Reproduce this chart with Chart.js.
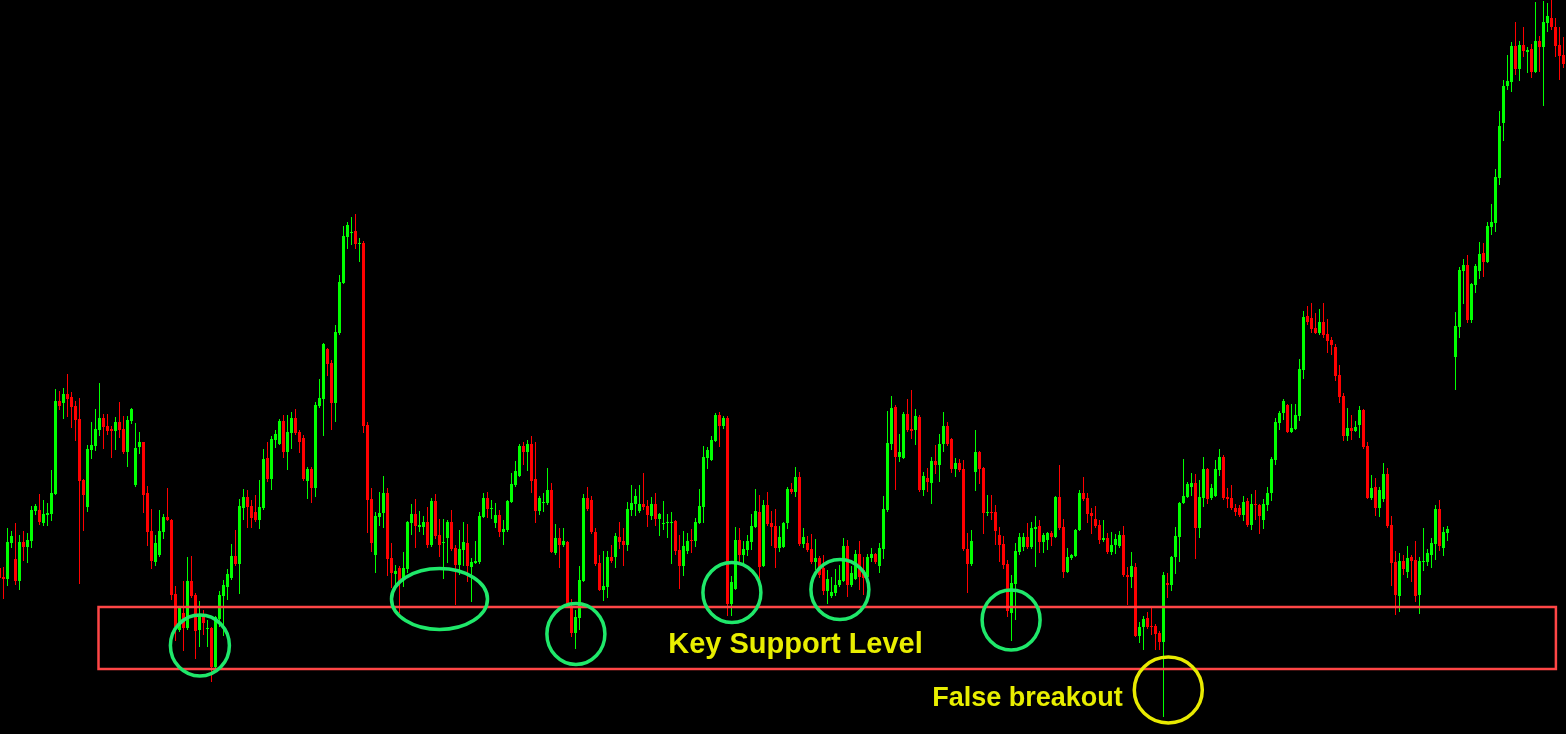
<!DOCTYPE html>
<html>
<head>
<meta charset="utf-8">
<script src="https://cdn.jsdelivr.net/npm/chart.js@4.4.1/dist/chart.umd.min.js"></script>
<style>
  html, body { margin: 0; padding: 0; background: #000; }
  #wrap { width: 1566px; height: 734px; }
</style>
</head>
<body>
<div id="wrap"><canvas id="chart"></canvas></div>
<script>
// Candle levels, read off the picture. They are measured downward from the top
// edge of the frame, so the y axis is reversed: a smaller number sits higher.
// Entry 0 is the half-cut candle on the left edge; null = no candle there.
const open = [
  568, 577,579,543,559,581,542,547,541,511,510,
  523,515,514,494,401,403,394,397,406,419,
  480,507,450,446,430,418,426,429,431,422,
  429,452,421,485,447,442,493,531,562,555,
  532,517,520,594,630,613,628,581,595,630,
  617,629,628,667,619,596,587,578,556,564,
  508,497,506,512,520,508,458,479,440,444,
  421,452,433,418,432,438,481,469,488,406,
  399,349,363,403,333,283,237,233,231,244,
  243,425,499,555,517,513,493,558,574,568,
  580,569,523,514,527,527,522,545,501,535,
  543,538,522,548,565,550,543,567,563,562,
  517,498,509,523,515,532,530,502,485,476,
  446,452,444,479,511,503,503,490,553,538,
  545,542,606,633,618,581,498,500,532,563,
  590,587,557,557,537,541,545,510,504,511,
  504,506,516,504,519,524,523,523,521,550,
  566,551,540,541,523,507,458,460,441,415,
  426,418,604,589,540,555,550,542,527,512,
  566,505,523,526,548,547,523,489,492,477,
  544,543,549,562,558,568,591,596,593,585,
  581,546,585,579,554,570,577,558,554,566,
  549,510,444,407,457,458,414,429,430,417,
  490,478,483,461,465,444,426,439,469,463,
  469,549,564,472,452,468,513,512,512,535,
  544,564,613,584,552,547,537,547,529,526,
  542,540,533,537,497,527,572,558,556,530,
  493,498,513,519,525,540,538,552,545,546,
  535,575,577,567,636,627,618,626,626,633,
  642,583,585,557,537,503,497,487,483,528,
  498,469,498,496,470,457,497,498,508,508,
  515,501,525,504,505,520,505,493,460,423,
  413,405,432,429,416,370,316,318,328,333,
  322,334,340,347,375,396,436,428,431,425,
  410,446,498,487,508,499,474,525,562,596,
  561,572,557,560,595,562,562,555,544,509,
  548,533,null,357,327,271,265,320,285,271,
  253,262,227,223,178,123,86,82,46,69,
  45,52,49,72,41,47,23,18,27,45, 55
];
const high = [
  565, 567,528,531,523,535,531,533,506,504,494,
  500,503,470,389,391,388,374,392,401,398,
  479,445,422,409,383,414,414,426,417,402,
  416,416,408,423,432,442,486,509,535,510,
  514,488,519,586,606,581,557,556,593,601,
  610,620,627,616,591,580,569,544,530,499,
  489,490,500,495,480,449,442,436,430,419,
  415,415,412,409,430,435,467,467,402,379,
  343,348,360,325,275,226,222,217,214,238,
  241,422,488,512,492,476,488,543,565,566,
  552,521,504,499,511,516,507,498,494,519,
  519,520,510,545,530,522,524,558,541,512,
  493,492,500,503,510,520,500,473,461,444,
  442,440,436,442,496,493,468,483,524,528,
  528,541,599,610,566,494,487,496,528,555,
  551,551,545,533,522,528,502,485,489,485,
  473,500,497,493,513,501,514,512,520,535,
  531,533,529,518,489,446,447,436,413,412,
  416,416,576,527,528,541,535,514,489,495,
  500,492,511,509,526,522,487,483,467,472,
  528,536,534,539,556,555,570,577,569,565,
  538,540,566,550,541,557,554,548,553,543,
  496,411,396,405,434,412,399,390,409,415,
  472,468,457,445,434,412,422,438,458,459,
  460,533,530,430,451,467,495,495,505,527,
  536,560,575,543,533,533,523,522,516,520,
  533,532,531,496,465,519,548,554,529,490,
  477,493,508,506,520,520,533,532,534,531,
  526,567,552,563,622,616,612,608,624,631,
  572,573,556,527,502,459,482,473,474,480,
  457,468,484,460,449,455,488,485,504,505,
  496,498,494,490,504,499,487,457,418,411,
  399,404,404,404,359,311,306,303,313,309,
  303,319,337,344,365,393,408,415,421,406,
  409,442,475,478,487,463,468,516,551,553,
  555,546,555,541,557,528,549,538,505,500,
  527,526,null,312,267,259,255,283,264,242,
  243,222,204,169,111,80,55,42,22,41,
  27,47,44,2,36,1,3,0,18,27, 37
];
const low = [
  582, 599,586,548,585,590,561,563,548,515,525,
  526,526,521,495,410,419,417,428,441,584,
  531,512,459,451,436,449,435,458,450,438,
  454,467,424,487,454,513,546,569,566,557,
  539,521,600,641,632,651,630,598,659,647,
  635,647,682,668,627,636,600,580,566,594,
  520,528,528,522,529,510,482,490,448,445,
  458,470,449,435,453,481,499,503,497,408,
  436,376,430,422,335,284,249,245,249,262,
  433,533,552,573,526,528,576,588,587,613,
  587,573,535,548,532,535,548,547,539,557,
  579,563,551,605,575,566,582,602,564,564,
  518,518,519,528,537,545,532,503,487,477,
  465,471,493,523,515,512,505,553,555,568,
  547,607,637,649,630,582,511,534,566,591,
  601,598,563,568,549,566,551,516,516,513,
  510,527,520,526,536,530,538,564,555,589,
  576,554,553,547,524,523,469,461,442,447,
  429,616,616,590,564,564,556,550,528,580,
  567,526,546,568,552,548,529,494,497,546,
  548,552,564,570,578,595,604,598,596,587,
  582,597,587,580,590,595,580,562,564,573,
  559,512,450,490,462,459,432,439,445,492,
  496,492,504,474,482,452,446,473,477,472,
  551,593,566,491,484,534,516,520,545,562,
  569,617,641,620,555,551,549,549,567,553,
  553,550,546,538,530,578,573,560,557,531,
  501,523,534,528,544,542,554,555,554,548,
  577,605,588,637,643,650,629,635,650,650,
  717,598,591,574,562,504,498,496,559,538,
  507,504,500,497,476,500,508,510,516,517,
  521,527,530,520,534,529,511,501,465,430,
  420,433,433,430,421,379,325,333,334,335,
  338,353,355,381,403,441,441,440,432,438,
  449,499,500,516,517,502,528,586,615,612,
  575,578,582,602,614,571,566,568,560,551,
  556,541,null,390,338,304,323,323,293,279,
  277,263,235,232,185,141,90,92,75,81,
  57,73,78,73,72,106,32,30,57,80, 68
];
const close = [
  578, 579,542,536,581,542,547,540,510,506,522,
  514,513,493,401,406,394,399,407,420,481,
  495,449,445,429,418,427,431,431,422,430,
  452,420,409,448,442,495,532,561,543,531,
  517,520,595,627,608,628,581,596,631,615,
  623,628,667,617,595,585,574,556,564,506,
  497,507,518,520,507,459,479,439,434,421,
  452,432,418,433,442,479,469,488,405,398,
  344,364,403,332,282,236,225,232,244,243,
  426,500,543,516,513,493,559,573,571,582,
  568,522,514,526,525,522,545,501,536,545,
  542,522,549,565,549,542,566,562,561,516,
  498,509,508,515,532,529,501,484,471,446,
  452,444,481,511,498,502,490,552,538,545,
  541,605,633,617,580,498,509,532,564,590,
  586,557,561,536,542,545,509,503,496,504,
  507,515,504,519,514,523,522,522,551,566,
  546,541,541,522,506,457,450,440,415,426,
  418,604,582,540,555,549,541,526,511,567,
  505,524,527,548,537,523,489,492,477,544,
  537,550,562,558,575,591,579,592,585,580,
  546,585,573,554,577,578,557,554,562,548,
  509,443,408,457,452,414,430,431,416,490,
  476,482,461,465,444,426,444,469,463,470,
  549,564,541,452,469,513,512,513,531,545,
  565,611,583,551,537,537,547,528,527,542,
  535,533,537,497,528,572,557,555,530,493,
  499,514,516,526,540,538,552,545,539,535,
  575,577,566,636,627,619,627,627,634,642,
  575,585,557,536,503,496,484,483,528,497,
  469,499,488,469,457,498,499,508,512,515,
  502,525,504,505,516,504,493,459,422,413,
  401,432,428,415,369,317,322,329,333,322,
  335,341,345,376,397,436,428,431,427,410,
  447,498,488,508,490,474,526,563,595,561,
  569,558,561,596,561,561,553,543,509,546,
  532,529,null,326,270,265,320,284,266,254,
  262,226,222,177,126,86,81,46,69,45,
  51,50,72,41,47,22,16,27,46,56, 64
];

// annotations, in the same units (x = candle index, y = level)
const supportZone = { from: 24.75, to: 389.1, top: 607, bottom: 669 };
const touches = [
  { x: 50.1, y: 645.5, rx: 29.5, ry: 30.5 },
  { x: 110.0, y: 599, rx: 48, ry: 30.5 },
  { x: 144.1, y: 634, rx: 29, ry: 30.5 },
  { x: 183.1, y: 592.5, rx: 29, ry: 30 },
  { x: 210.1, y: 589.5, rx: 29, ry: 30 },
  { x: 252.9, y: 620, rx: 29, ry: 30 }
];
const breakout = { x: 292.2, y: 690, rx: 34, ry: 33 };
const labels = [
  { text: "Key Support Level", x: 199.0, y: 653, size: 29 },
  { text: "False breakout", x: 257.0, y: 706, size: 27 }
];

const UP = "#00ff00", DOWN = "#ff0000";

const bodies = [], wicks = [], colours = [];
open.forEach((o, i) => {
  if (o === null) return;
  bodies.push({ x: i, y: [o, close[i]] });
  wicks.push({ x: i, y: [high[i], low[i]] });
  colours.push(close[i] < o ? UP : DOWN);   // reversed axis: smaller = higher
});

// draws the support box, the touch circles and the captions over the candles
const markup = {
  id: "markup",
  afterDatasetsDraw(chart) {
    const { ctx, scales: { x, y } } = chart;
    ctx.save();

    ctx.strokeStyle = "#ff4646";
    ctx.lineWidth = 2.5;
    const x0 = x.getPixelForValue(supportZone.from), x1 = x.getPixelForValue(supportZone.to);
    const y0 = y.getPixelForValue(supportZone.top), y1 = y.getPixelForValue(supportZone.bottom);
    ctx.strokeRect(x0, y0, x1 - x0, y1 - y0);

    ctx.lineWidth = 3.5;
    ctx.strokeStyle = "#1fe86a";
    touches.forEach(t => {
      ctx.beginPath();
      ctx.ellipse(x.getPixelForValue(t.x), y.getPixelForValue(t.y), t.rx, t.ry, 0, 0, Math.PI * 2);
      ctx.stroke();
    });

    ctx.strokeStyle = "#e8ea00";
    ctx.beginPath();
    ctx.ellipse(x.getPixelForValue(breakout.x), y.getPixelForValue(breakout.y), breakout.rx, breakout.ry, 0, 0, Math.PI * 2);
    ctx.stroke();

    ctx.fillStyle = "#e8ee00";
    ctx.textAlign = "center";
    ctx.textBaseline = "alphabetic";
    labels.forEach(l => {
      ctx.font = `bold ${l.size}px "Liberation Sans", Arial, sans-serif`;
      ctx.fillText(l.text, x.getPixelForValue(l.x), y.getPixelForValue(l.y));
    });

    ctx.restore();
  }
};

new Chart(document.getElementById("chart"), {
  type: "bar",
  data: {
    datasets: [
      { data: bodies, backgroundColor: colours, barThickness: 3, minBarLength: 1,
        borderWidth: 0, inflateAmount: 0, grouped: false },
      { data: wicks, backgroundColor: colours, barThickness: 1,
        borderWidth: 0, inflateAmount: 0, grouped: false }
    ]
  },
  options: {
    responsive: true,
    maintainAspectRatio: false,
    animation: false,
    layout: { padding: 0 },
    plugins: { legend: { display: false }, tooltip: { enabled: false } },
    scales: {
      x: { type: "linear", display: false, offset: false, min: 0.125, max: 391.625 },
      y: { display: false, reverse: true, min: 0, max: 734 }
    }
  },
  plugins: [markup]
});
</script>
</body>
</html>
